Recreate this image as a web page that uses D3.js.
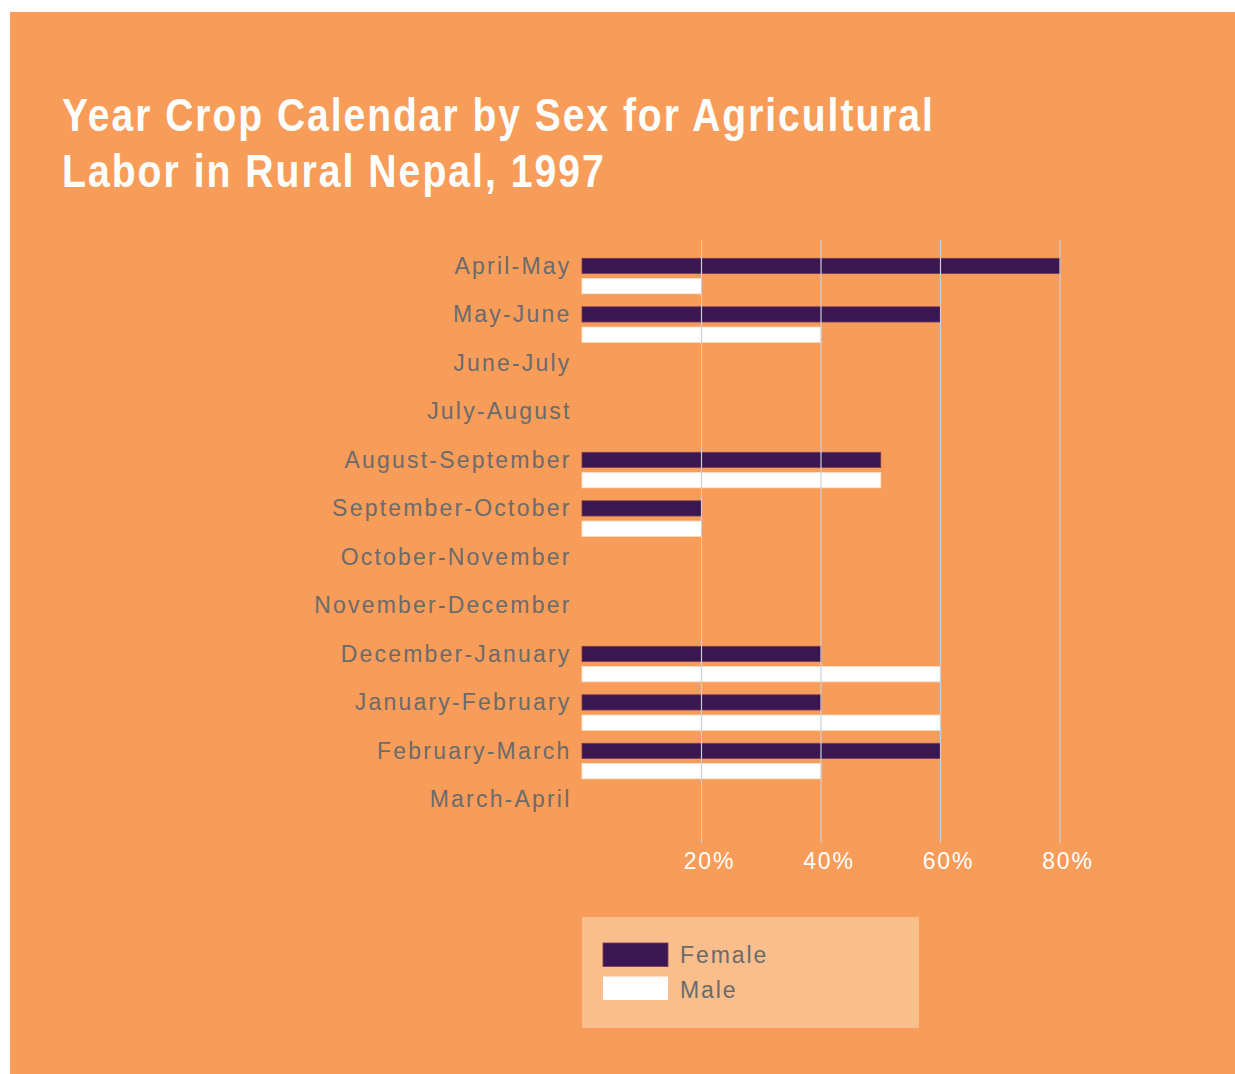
<!DOCTYPE html>
<html>
<head>
<meta charset="utf-8">
<script src="https://cdn.jsdelivr.net/npm/d3@7"></script>
<style>
  html, body { margin: 0; padding: 0; background: #ffffff; }
  svg { display: block; }
</style>
</head>
<body>
<svg id="chart" width="1235" height="1074"></svg>
<script>
const categories = [
  "April-May", "May-June", "June-July", "July-August", "August-September",
  "September-October", "October-November", "November-December",
  "December-January", "January-February", "February-March", "March-April"
];
const femaleValues = [80, 60, null, null, 50, 20, null, null, 40, 40, 60, null];
const maleValues   = [20, 40, null, null, 50, 20, null, null, 60, 60, 40, null];
const seriesNames = ["Female", "Male"];
const tickValues = [20, 40, 60, 80];
const tickLabels = ["20%", "40%", "60%", "80%"];
const titleLines = ["Year Crop Calendar by Sex for Agricultural", "Labor in Rural Nepal, 1997"];

const colors = { Female: "#3b1650", Male: "#ffffff" };
const bg = "#f79c59";

const svg = d3.select("#chart");

// background panel
svg.append("rect").attr("x", 10).attr("y", 12).attr("width", 1225).attr("height", 1062).attr("fill", bg);

// title: bold sans, horizontally condensed to the reference width
const titleWidths = [873, 544];
titleLines.forEach((t, i) => {
  const tx = svg.append("text")
    .attr("x", 0).attr("y", 131 + i * 56)
    .attr("font-family", "'Liberation Sans', Arial, Helvetica, sans-serif")
    .attr("font-weight", "bold")
    .attr("font-size", 47)
    .attr("letter-spacing", 2.4)
    .attr("fill", "#ffffff")
    .text(t);
  const w = tx.node().getComputedTextLength();
  const sx = titleWidths[i] / w;
  tx.attr("transform", `translate(62,0) scale(${sx},1)`);
});

// scales
const x = d3.scaleLinear().domain([0, 80]).range([582, 1060]);
const step = 48.5;
const y = d3.scaleBand().domain(categories).range([258.3, 258.3 + step * categories.length]).paddingInner(0).paddingOuter(0);
const ySub = d3.scaleBand().domain(seriesNames).range([0, 35.5]).paddingInner(0.25).paddingOuter(0);

const rows = categories.map((c, i) => ({ cat: c, Female: femaleValues[i], Male: maleValues[i] }));

// category labels
svg.append("g").selectAll("text").data(categories).join("text")
  .attr("x", 571.5)
  .attr("y", d => y(d) + 15.2)
  .attr("text-anchor", "end")
  .attr("font-family", "'Liberation Sans', Arial, Helvetica, sans-serif")
  .attr("font-size", 23)
  .attr("letter-spacing", 2.2)
  .attr("fill", "#6b6b6b")
  .text(d => d);

// bars
const barG = svg.append("g");
rows.forEach(r => {
  seriesNames.forEach(s => {
    if (r[s] == null) return;
    barG.append("rect")
      .attr("x", x(0))
      .attr("y", y(r.cat) + ySub(s))
      .attr("width", x(r[s]) - x(0))
      .attr("height", ySub.bandwidth())
      .attr("fill", colors[s])
      .attr("stroke", s === "Female" ? "#7a3b55" : "#fde3cf")
      .attr("stroke-width", 0.8);
  });
});

// gridlines (drawn over bars)
svg.append("g").selectAll("line").data(tickValues).join("line")
  .attr("x1", d => x(d)).attr("x2", d => x(d))
  .attr("y1", 240).attr("y2", 843)
  .attr("stroke", "#cdcdd6")
  .attr("stroke-width", 1.2);

// x tick labels
svg.append("g").selectAll("text").data(tickValues).join("text")
  .attr("x", (d, i) => x(d) + 8)
  .attr("y", 869)
  .attr("text-anchor", "middle")
  .attr("font-family", "'Liberation Sans', Arial, Helvetica, sans-serif")
  .attr("font-size", 23)
  .attr("letter-spacing", 1.8)
  .attr("fill", "#ffffff")
  .text((d, i) => tickLabels[i]);

// legend
const lg = svg.append("g");
lg.append("rect").attr("x", 582).attr("y", 917).attr("width", 337).attr("height", 111).attr("fill", "#f9be8b");
seriesNames.forEach((s, i) => {
  lg.append("rect")
    .attr("x", 603).attr("y", 943 + i * 33.5)
    .attr("width", 65).attr("height", 23.5)
    .attr("fill", colors[s])
    .attr("stroke", s === "Female" ? "#7a3b55" : "none")
    .attr("stroke-width", 0.8);
  lg.append("text")
    .attr("x", 680).attr("y", 963 + i * 34.5)
    .attr("font-family", "'Liberation Sans', Arial, Helvetica, sans-serif")
    .attr("font-size", 23)
    .attr("letter-spacing", 1.9)
    .attr("fill", "#6b6b6b")
    .text(s);
});
</script>
</body>
</html>
